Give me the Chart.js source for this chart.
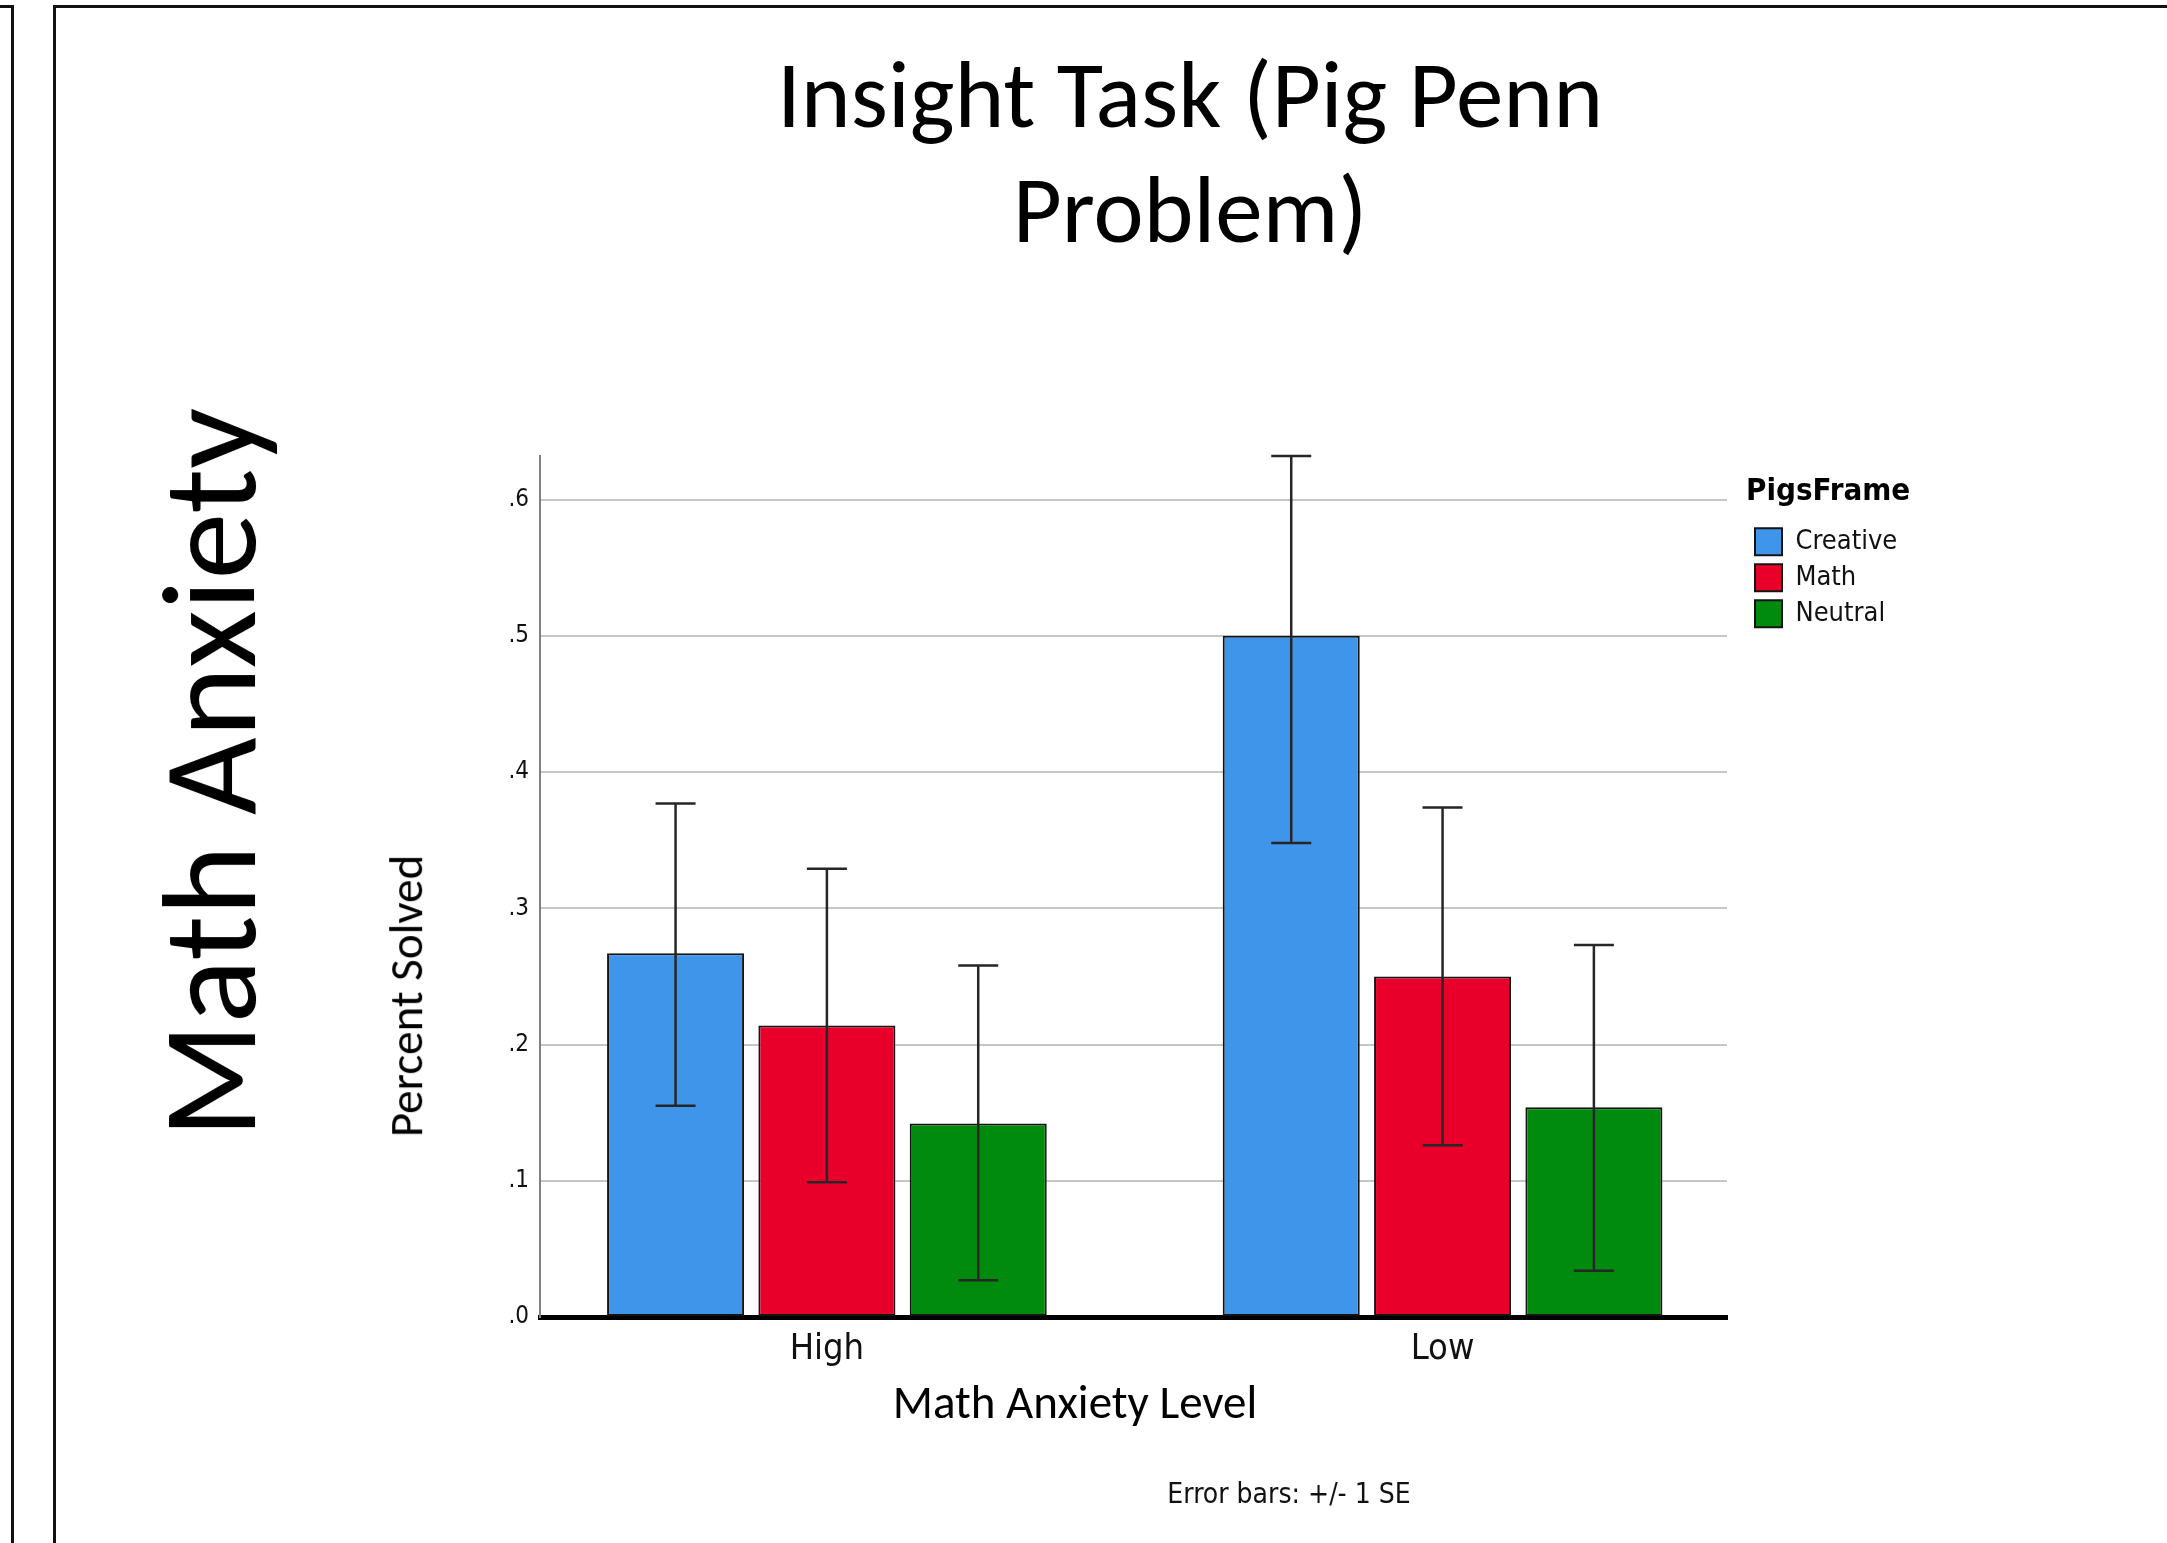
<!DOCTYPE html>
<html>
<head>
<meta charset="utf-8">
<script src="https://cdn.jsdelivr.net/npm/chart.js@4.4.0/dist/chart.umd.min.js"></script>
<style>
html, body { margin:0; padding:0; background:#fff; width:2167px; height:1543px; overflow:hidden; position:relative; }
#c { position:absolute; left:0; top:0; }
.frame { position:absolute; background:#111; }
.txt { position:absolute; left:0; top:0; white-space:nowrap; color:#000; line-height:1.2; }
.cal { font-family: Carlito, Calibri, "Open Sans", sans-serif; }
.spss { font-family: "DejaVu Sans Condensed", "DejaVu Sans", sans-serif; color:#111; }
</style>
</head>
<body>
<div class="frame" style="left:0;top:5px;width:14px;height:3px"></div>
<div class="frame" style="left:11px;top:5px;width:3px;height:1538px"></div>
<div class="frame" style="left:53px;top:5px;width:2114px;height:3px"></div>
<div class="frame" style="left:53px;top:5px;width:3px;height:1538px"></div>

<canvas id="c" width="2167" height="1543"></canvas>

<div id="title1" class="txt cal" style="font-size:95px">Insight Task (Pig Penn</div>
<div id="title2" class="txt cal" style="font-size:95px">Problem)</div>
<div id="sideLabel" class="txt cal" style="font-size:134px">Math Anxiety</div>
<div id="yTitle" class="txt cal" style="font-size:47px">Percent Solved</div>
<div id="xTitle" class="txt cal" style="font-size:47px">Math Anxiety Level</div>
<div id="note" class="txt spss" style="font-size:28px">Error bars: +/- 1 SE</div>

<script>
// ---- data ----
const categories = ['High', 'Low'];
const seriesNames = ['Creative', 'Math', 'Neutral'];
const creativeValues = [0.267, 0.500];
const mathValues     = [0.214, 0.250];
const neutralValues  = [0.142, 0.154];
// error bar ends (+/- 1 SE)
const creativeErrLow  = [0.155, 0.348];
const creativeErrHigh = [0.377, 0.632];
const mathErrLow      = [0.099, 0.126];
const mathErrHigh     = [0.329, 0.374];
const neutralErrLow   = [0.027, 0.034];
const neutralErrHigh  = [0.258, 0.273];
const yTickValues = [0, 0.1, 0.2, 0.3, 0.4, 0.5, 0.6];
const yTickLabels = ['.0', '.1', '.2', '.3', '.4', '.5', '.6'];
const legendTitle = 'PigsFrame';

const seriesColors = ['#3f95ea', '#e8002b', '#008a0e'];
const SPSS_FONT = '"DejaVu Sans Condensed", "DejaVu Sans", sans-serif';

const valueSets = [creativeValues, mathValues, neutralValues];
const lowSets = [creativeErrLow, mathErrLow, neutralErrLow];
const highSets = [creativeErrHigh, mathErrHigh, neutralErrHigh];

const datasets = seriesNames.map((name, s) => ({
  label: name,
  data: categories.map((c, i) => ({ x: i, y: valueSets[s][i] })),
  errLow: lowSets[s],
  errHigh: highSets[s],
  backgroundColor: seriesColors[s],
  borderColor: '#141414',
  borderWidth: 2,
  borderSkipped: false,
  categoryPercentage: 0.7374,
  barPercentage: 0.9055
}));

const errorBarPlugin = {
  id: 'errorBars',
  afterDatasetsDraw(chart) {
    const ctx = chart.ctx;
    const yScale = chart.scales.y;
    const cap = 20;
    chart.data.datasets.forEach((ds, di) => {
      const meta = chart.getDatasetMeta(di);
      meta.data.forEach((bar, j) => {
        const top = yScale.getPixelForValue(ds.errHigh[j]);
        const bot = yScale.getPixelForValue(ds.errLow[j]);
        ctx.save();
        ctx.strokeStyle = '#262626';
        ctx.lineWidth = 2.5;
        ctx.beginPath();
        ctx.moveTo(bar.x, top); ctx.lineTo(bar.x, bot);
        ctx.moveTo(bar.x - cap, top); ctx.lineTo(bar.x + cap, top);
        ctx.moveTo(bar.x - cap, bot); ctx.lineTo(bar.x + cap, bot);
        ctx.stroke();
        ctx.restore();
      });
    });
  }
};

const legendShift = {
  id: 'legendShift',
  afterLayout(chart) {
    const l = chart.legend;
    if (l) { l.left += 19; l.width = 320; l.right = l.left + 320; }
  }
};

new Chart(document.getElementById('c'), {
  type: 'bar',
  data: { datasets },
  plugins: [errorBarPlugin, legendShift],
  options: {
    responsive: false,
    animation: false,
    devicePixelRatio: 1,
    layout: { padding: { left: 480, right: 290, top: 456, bottom: 146 } },
    scales: {
      x: {
        type: 'linear',
        offset: false,
        min: -0.466,
        max: 1.462,
        z: 1,
        afterFit: (s) => { s.height = 80; },
        afterBuildTicks: (s) => { s.ticks = categories.map((c, i) => ({ value: i })); },
        grid: { display: false, drawTicks: false, offset: false },
        border: { display: true, color: '#000', width: 5 },
        ticks: {
          padding: 11,
          color: '#111',
          font: { family: SPSS_FONT, size: 36 },
          callback: (v, i) => categories[i]
        }
      },
      y: {
        min: 0,
        max: 0.632,
        afterFit: (s) => { s.width = 60; },
        afterBuildTicks: (s) => { s.ticks = yTickValues.map(v => ({ value: v })); },
        grid: { color: '#c6c6c6', lineWidth: 2, drawTicks: false },
        border: { display: true, color: '#808080', width: 2 },
        ticks: {
          padding: 11,
          color: '#111',
          font: { family: SPSS_FONT, size: 24 },
          callback: (v, i) => yTickLabels[i]
        }
      }
    },
    plugins: {
      tooltip: { enabled: false },
      legend: {
        position: 'right',
        align: 'start',
        maxWidth: 150,
        title: {
          display: true,
          text: legendTitle,
          position: 'start',
          color: '#000',
          font: { family: SPSS_FONT, size: 31, weight: 'bold' },
          padding: { top: 20, bottom: 6 }
        },
        labels: {
          boxWidth: 27,
          boxHeight: 27,
          padding: 9,
          color: '#111',
          font: { family: SPSS_FONT, size: 27 }
        }
      }
    }
  }
});

// ---- place HTML text by baseline ----
function place(id, x, y, rotate) {
  const el = document.getElementById(id);
  el.style.transform = 'none';
  el.style.left = '0px';
  el.style.top = '0px';
  let mk = el.querySelector('.mk');
  if (!mk) {
    mk = document.createElement('span');
    mk.className = 'mk';
    mk.style.cssText = 'display:inline-block;width:0;height:0;vertical-align:baseline';
    el.appendChild(mk);
  }
  const er = el.getBoundingClientRect();
  const b = mk.getBoundingClientRect().top - er.top;
  const w = er.width;
  el.style.left = (x - w / 2) + 'px';
  el.style.top = (y - b) + 'px';
  if (rotate) {
    el.style.transformOrigin = (w / 2) + 'px ' + b + 'px';
    el.style.transform = 'rotate(-90deg)';
  }
}
function placeAll() {
  place('title1', 1190, 127, false);
  place('title2', 1190, 242, false);
  place('sideLabel', 255, 773, true);
  place('yTitle', 422, 996, true);
  place('xTitle', 1075, 1418, false);
  place('note', 1289, 1503, false);
}
placeAll();
if (document.fonts && document.fonts.ready) document.fonts.ready.then(placeAll);
</script>
</body>
</html>
